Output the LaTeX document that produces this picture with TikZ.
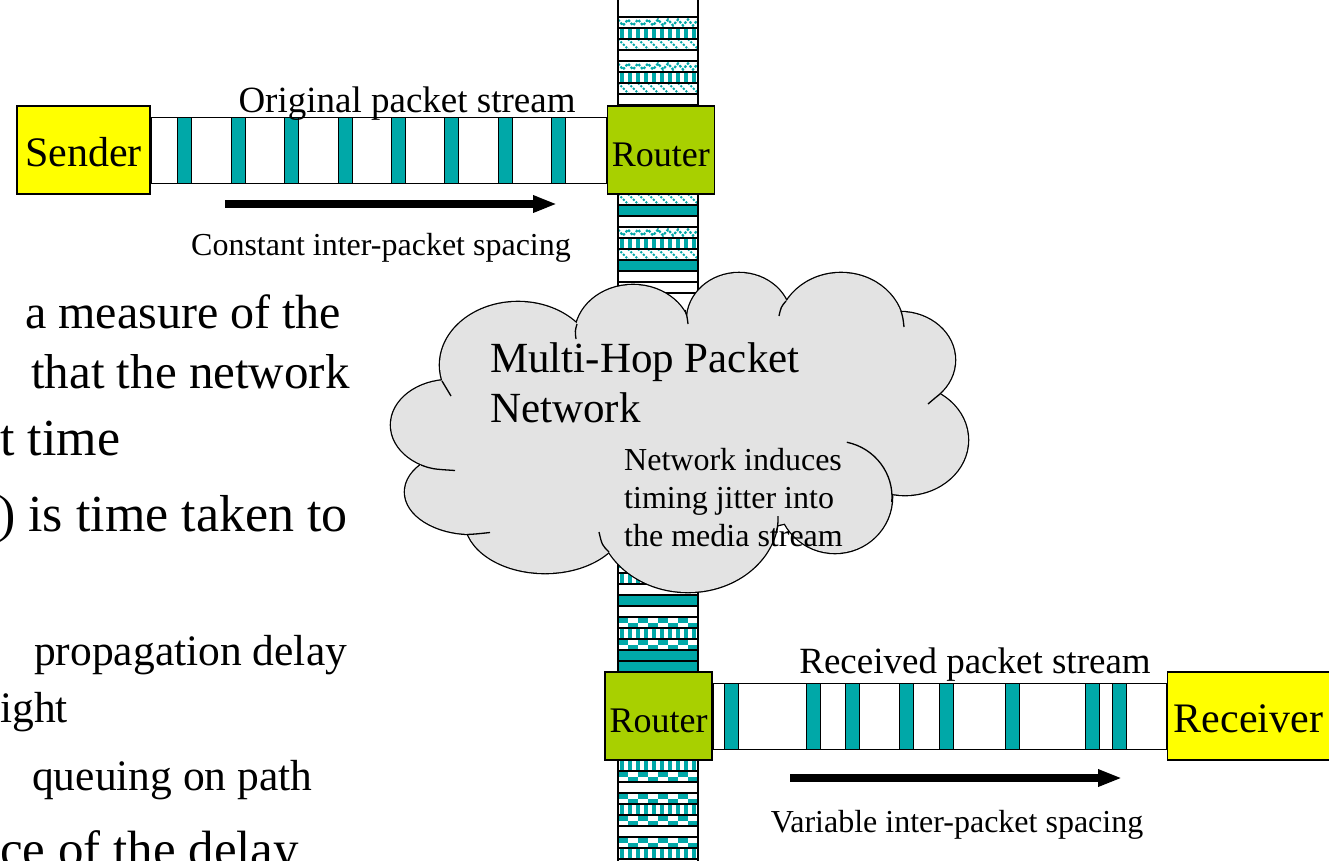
\documentclass[tikz,border=0pt]{standalone}
\usepackage{fontspec}
\setmainfont{Liberation Serif}
\usetikzlibrary{arrows.meta,positioning}
\definecolor{packetteal}{RGB}{0,168,168}
\definecolor{routergreen}{RGB}{168,208,0}
\definecolor{hostyellow}{RGB}{255,255,0}
\definecolor{cloudgray}{RGB}{227,227,227}
\tikzset{
  hostbox/.style={draw, fill=hostyellow, line width=1.2pt, minimum height=88pt, inner sep=0pt, text height=33pt, text depth=0pt, font=\fontsize{42}{46}\selectfont},
  router/.style={draw, fill=routergreen, line width=1.5pt, minimum width=107pt, minimum height=88pt, inner sep=0pt, text height=32pt, text depth=0pt, font=\fontsize{36}{40}\selectfont},
  stream/.style={draw, fill=white, line width=1pt, minimum height=66pt, inner sep=0pt},
  packet/.style={draw, fill=packetteal, line width=1pt, minimum width=14pt, minimum height=66pt, inner sep=0pt, anchor=west},
  cell/.style={draw, line width=1.4pt, fill=white},
  solidcell/.style={cell, fill=packetteal},
  emptycell/.style={cell},
  barcell/.style={cell, path picture={
      \foreach \i in {0,...,9}
        \fill[packetteal] ([xshift=\i*8pt+2pt]path picture bounding box.north west) rectangle ++(4pt,-12pt);}},
  checkcell/.style={cell, path picture={
      \foreach \i in {0,2,...,8}
        \fill[packetteal] ([xshift=\i*10pt]path picture bounding box.north west) rectangle ++(10pt,-5.5pt);
      \foreach \i in {1,3,...,9}
        \fill[packetteal] ([xshift=\i*10pt,yshift=-5.5pt]path picture bounding box.north west) rectangle ++(10pt,-6pt);}},
  zigcell/.style={cell, path picture={
      \draw[packetteal, line width=2.2pt, dash pattern=on 2.5pt off 1.5pt]
        ([yshift=-2.5pt]path picture bounding box.north west)
        \foreach \i in {1,...,8} { -- ++(5pt,-6pt) -- ++(5pt,6pt) };}},
  diagcell/.style={cell, path picture={
      \foreach \i in {-2,...,8}
        \draw[packetteal, line width=2pt, dash pattern=on 2pt off 1.6pt]
          ([xshift=\i*10pt]path picture bounding box.north west) -- ++(12pt,-12pt);}},
  streamlabel/.style={font=\fontsize{37}{40}\selectfont, inner sep=0pt, anchor=base},
  spacinglabel/.style={font=\fontsize{32}{36}\selectfont, inner sep=0pt, anchor=base},
  slidetext/.style={font=\fontsize{48}{56}\selectfont, inner sep=0pt, anchor=base west},
  subtext/.style={slidetext, font=\fontsize{43.5}{50}\selectfont},
  cloudtext/.style={font=\fontsize{43}{50}\selectfont, inner sep=0pt, anchor=base west},
  notetext/.style={font=\fontsize{32}{38}\selectfont, inner sep=0pt, anchor=base west},
  puffline/.style={line width=1.3pt},
  speedarrow/.style={line width=8pt, -{Triangle[length=24pt, width=16pt]}},
}

\begin{document}
\begin{tikzpicture}[x=1pt, y=-1pt]
\useasboundingbox (0,0) rectangle (1329,860);
\clip (0,0) rectangle (1329,860);

% background slide text (cut off at the left)
\node[slidetext] (s1) at (25,328) {a measure of the};
\node[slidetext, font=\fontsize{49}{56}\selectfont] (s2) at (31,388) {that the network};
\node[slidetext, font=\fontsize{52}{60}\selectfont] (s3) at (0,455) {t time};
\node[slidetext, font=\fontsize{52}{60}\selectfont] (s4) at (-2,531) {) is time taken to};
\node[subtext] (s5) at (34,665) {propagation delay};
\node[subtext] (s6) at (0,722) {ight};
\node[subtext] (s7) at (32,790) {queuing on path};
\node[slidetext, font=\fontsize{51}{60}\selectfont] (s8) at (0,866) {ce of the delay};

% vertical packet trunk
\draw[line width=1.2pt] (618,-5) -- (618,865) (698,-5) -- (698,865);
\foreach \cy/\kind in {17/zigcell, 28/barcell, 39/diagcell, 50/emptycell, 61/zigcell, 72/barcell, 83/diagcell, 94/emptycell,
    194/diagcell, 205/solidcell, 216/emptycell, 227/zigcell, 238/barcell, 249/diagcell, 260/solidcell, 271/emptycell, 282/emptycell,
    562/checkcell, 573/barcell, 584/emptycell, 595/solidcell, 606/emptycell, 617/checkcell, 628/barcell, 639/checkcell, 650/solidcell, 661/solidcell,
    760/barcell, 771/checkcell, 782/emptycell, 793/checkcell, 804/barcell, 815/checkcell, 826/emptycell, 837/checkcell, 848/barcell}
  \draw[\kind] (618,\cy) rectangle ++(80,11);

% sender side
\node[hostbox, minimum width=133pt] (sender) at (83.5,150) {Sender};
\node[stream, minimum width=455pt, right=0pt of sender] (origstream) {};
\node[router, right=0pt of origstream] (router1) {Router};
\foreach \px in {177,231,284,338,391,444,498,551}
  \node[packet] (op\px) at (\px,150) {};
\node[streamlabel] (origlabel) at (407,112) {Original packet stream};
\coordinate (constA) at (225,204);
\coordinate (constB) at (557,204);
\draw[speedarrow] (constA) -- (constB);
\node[spacinglabel] (constlabel) at (381,255) {Constant inter-packet spacing};

% receiver side
\node[router] (router2) at (658.5,716) {Router};
\node[stream, minimum width=453pt, right=0pt of router2] (recvstream) {};
\node[hostbox, minimum width=162pt, right=0pt of recvstream] (receiver) {Receiver};
\foreach \px in {724,806,845,899,939,1005,1085,1112}
  \node[packet, minimum width=13.5pt] (rp\px) at (\px,716) {};
\node[streamlabel] (recvlabel) at (975,673) {Received packet stream};
\coordinate (varA) at (790,778);
\coordinate (varB) at (1122,778);
\draw[speedarrow] (varA) -- (varB);
\node[spacinglabel] (varlabel) at (957,832) {Variable inter-packet spacing};

% network cloud
\foreach \cx/\cy/\rx/\ry in {450/425/59/45, 472/492/67/42, 545/520/80/53, 688/515/90/77, 835/497/57/56, 905/440/63/55,
    900/360/55/48, 841/330/63/57, 739/320/52/47, 633/335/58/50, 518/365/78/63, 680/430/230/105}
  \draw[line width=2.6pt] (\cx,\cy) ellipse [x radius=\rx, y radius=\ry];
\foreach \cx/\cy/\rx/\ry in {450/425/59/45, 472/492/67/42, 545/520/80/53, 688/515/90/77, 835/497/57/56, 905/440/63/55,
    900/360/55/48, 841/330/63/57, 739/320/52/47, 633/335/58/50, 518/365/78/63, 680/430/230/105}
  \fill[cloudgray] (\cx,\cy) ellipse [x radius=\rx, y radius=\ry];
\draw[puffline] (835,497) ++(-78:57 and 56) arc [start angle=-78, end angle=5, x radius=57, y radius=56];
% puff ends
\draw[puffline] (442,381) .. controls (446,388) .. (451,396);
\draw[puffline] (577,324) .. controls (575,331) .. (576,339);
\draw[puffline] (685,310) .. controls (687,316) .. (688,324);
\draw[puffline] (786,301) .. controls (781,307) .. (779,316);
\draw[puffline] (901,311) .. controls (903,318) .. (904,327);
\draw[puffline] (940,394) .. controls (935,398) .. (928,404);
\draw[puffline] (421,465) .. controls (432,469) .. (455,470.5);
\draw[puffline] (467,534.5) .. controls (476,534) .. (490,532.5);
\draw[puffline] (609,552) .. controls (602,545) .. (599,532);
\draw[puffline] (776,533) .. controls (778,525) .. (778,516);

\node[cloudtext] (net1) at (490,372) {Multi-Hop Packet};
\node[cloudtext] (net2) at (490,422) {Network};
\node[notetext] (note1) at (624,470) {Network induces};
\node[notetext] (note2) at (624,508) {timing jitter into};
\node[notetext] (note3) at (624,546) {the media stream};
\end{tikzpicture}
\end{document}
